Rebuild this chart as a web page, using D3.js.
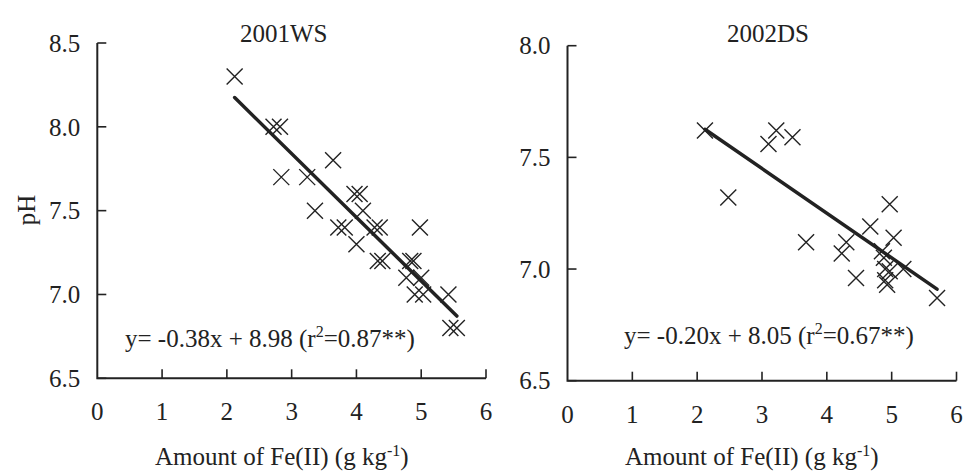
<!DOCTYPE html>
<html>
<head>
<meta charset="utf-8">
<script src="https://cdn.jsdelivr.net/npm/d3@7"></script>
<style>
  html, body { margin: 0; padding: 0; background: #fff; }
  svg { display: block; }
  text { font-family: "Liberation Serif", "Times New Roman", serif; fill: #222; }
</style>
</head>
<body>
<svg id="chart" width="964" height="473"></svg>
<script>
// Fe(II) amount (g/kg) vs soil pH, two seasons
const xTicks = [0, 1, 2, 3, 4, 5, 6];

const wsTitle = "2001WS";
const wsFe = [2.12, 2.72, 2.82, 2.84, 3.24, 3.64, 3.36, 3.72, 3.82, 3.97, 4.05, 4.10, 4.00,
              4.28, 4.36, 4.98, 4.33, 4.40, 4.83, 4.88, 4.77, 5.00, 4.90, 5.03, 5.42, 5.45, 5.55];
const wsPH = [8.30, 8.00, 8.00, 7.70, 7.70, 7.80, 7.50, 7.40, 7.40, 7.60, 7.60, 7.50, 7.30,
              7.40, 7.40, 7.40, 7.20, 7.20, 7.20, 7.20, 7.10, 7.10, 7.00, 7.00, 7.00, 6.80, 6.80];
const wsYTicks = [6.5, 7.0, 7.5, 8.0, 8.5];
const wsFit = { slope: -0.38, intercept: 8.98, r2: "0.87**" };

const dsTitle = "2002DS";
const dsFe = [2.12, 3.22, 3.10, 3.47, 2.48, 3.68, 4.97, 4.67, 4.30, 4.23, 5.03, 4.85, 4.88,
              4.45, 4.90, 4.97, 5.18, 4.90, 4.93, 5.70];
const dsPH = [7.62, 7.62, 7.56, 7.59, 7.32, 7.12, 7.29, 7.19, 7.12, 7.07, 7.14, 7.08, 7.05,
              6.96, 7.00, 6.99, 7.00, 6.95, 6.93, 6.87];
const dsYTicks = [6.5, 7.0, 7.5, 8.0];
const dsFit = { slope: -0.20, intercept: 8.05, r2: "0.67**" };

const svg = d3.select("#chart");
const fmt = d3.format(".1f");
const INK = "#222";

const panels = [
  { title: wsTitle, fe: wsFe, ph: wsPH, yTicks: wsYTicks, fit: wsFit,
    x0: 97.3, x1: 486, yTop: 43, yBot: 378.3, titleX: 240, eqX: 125, eqY: 347, labelX: 155, pH: true },
  { title: dsTitle, fe: dsFe, ph: dsPH, yTicks: dsYTicks, fit: dsFit,
    x0: 567.5, x1: 956.5, yTop: 45.7, yBot: 380.7, titleX: 727, eqX: 624, eqY: 344, labelX: 625, pH: false }
];

panels.forEach(p => {
  const x = d3.scaleLinear().domain([0, 6]).range([p.x0, p.x1]);
  const y = d3.scaleLinear().domain(d3.extent(p.yTicks)).range([p.yBot, p.yTop]);
  const g = svg.append("g");

  // axes lines
  g.append("path")
    .attr("d", `M${p.x0},${p.yTop}V${p.yBot}H${p.x1}`)
    .attr("fill", "none").attr("stroke", INK).attr("stroke-width", 2);

  // y ticks (inward) and labels
  p.yTicks.forEach(t => {
    g.append("line").attr("x1", p.x0).attr("x2", p.x0 + 9)
      .attr("y1", y(t)).attr("y2", y(t)).attr("stroke", INK).attr("stroke-width", 1.6);
    g.append("text").attr("x", p.x0 - 17).attr("y", y(t)).attr("dy", "0.35em")
      .attr("text-anchor", "end").attr("font-size", 25).text(fmt(t));
  });

  // x ticks (inward) and labels
  xTicks.forEach(t => {
    if (t > 0) {
      g.append("line").attr("x1", x(t)).attr("x2", x(t))
        .attr("y1", p.yBot).attr("y2", p.yBot - 9).attr("stroke", INK).attr("stroke-width", 1.6);
    }
    g.append("text").attr("x", x(t)).attr("y", p.yBot + 42)
      .attr("text-anchor", "middle").attr("font-size", 25).text(t);
  });

  // title
  g.append("text").attr("x", p.titleX).attr("y", 42)
    .attr("font-size", 25).text(p.title);

  // x-axis label with superscript
  const xl = g.append("text").attr("x", p.labelX).attr("y", 465).attr("font-size", 25);
  xl.append("tspan").text("Amount of Fe(II) (g kg");
  xl.append("tspan").attr("dy", -9).attr("font-size", 16).text("-1");
  xl.append("tspan").attr("dy", 9).text(")");

  if (p.pH) {
    g.append("text").attr("transform", `translate(35,210) rotate(-90)`)
      .attr("text-anchor", "middle").attr("font-size", 25).text("pH");
  }

  // regression line over data range
  const [fmin, fmax] = d3.extent(p.fe);
  g.append("line")
    .attr("x1", x(fmin)).attr("y1", y(p.fit.slope * fmin + p.fit.intercept))
    .attr("x2", x(fmax)).attr("y2", y(p.fit.slope * fmax + p.fit.intercept))
    .attr("stroke", INK).attr("stroke-width", 3.5).attr("stroke-linecap", "round");

  // cross markers
  const s = 8;
  g.append("g").selectAll("path").data(p.fe.map((f, i) => [f, p.ph[i]])).join("path")
    .attr("d", d => {
      const cx = x(d[0]), cy = y(d[1]);
      return `M${cx - s},${cy - s}L${cx + s},${cy + s}M${cx - s},${cy + s}L${cx + s},${cy - s}`;
    })
    .attr("stroke", INK).attr("stroke-width", 1.4).attr("fill", "none");

  // regression equation
  const sign = p.fit.slope < 0 ? "-" : "";
  const eq = g.append("text").attr("x", p.eqX).attr("y", p.eqY).attr("font-size", 25);
  eq.append("tspan").text(`y= ${sign}${Math.abs(p.fit.slope).toFixed(2)}x + ${p.fit.intercept.toFixed(2)} (r`);
  eq.append("tspan").attr("dy", -10).attr("font-size", 16).text("2");
  eq.append("tspan").attr("dy", 10).text(`=${p.fit.r2})`);
});
</script>
</body>
</html>
